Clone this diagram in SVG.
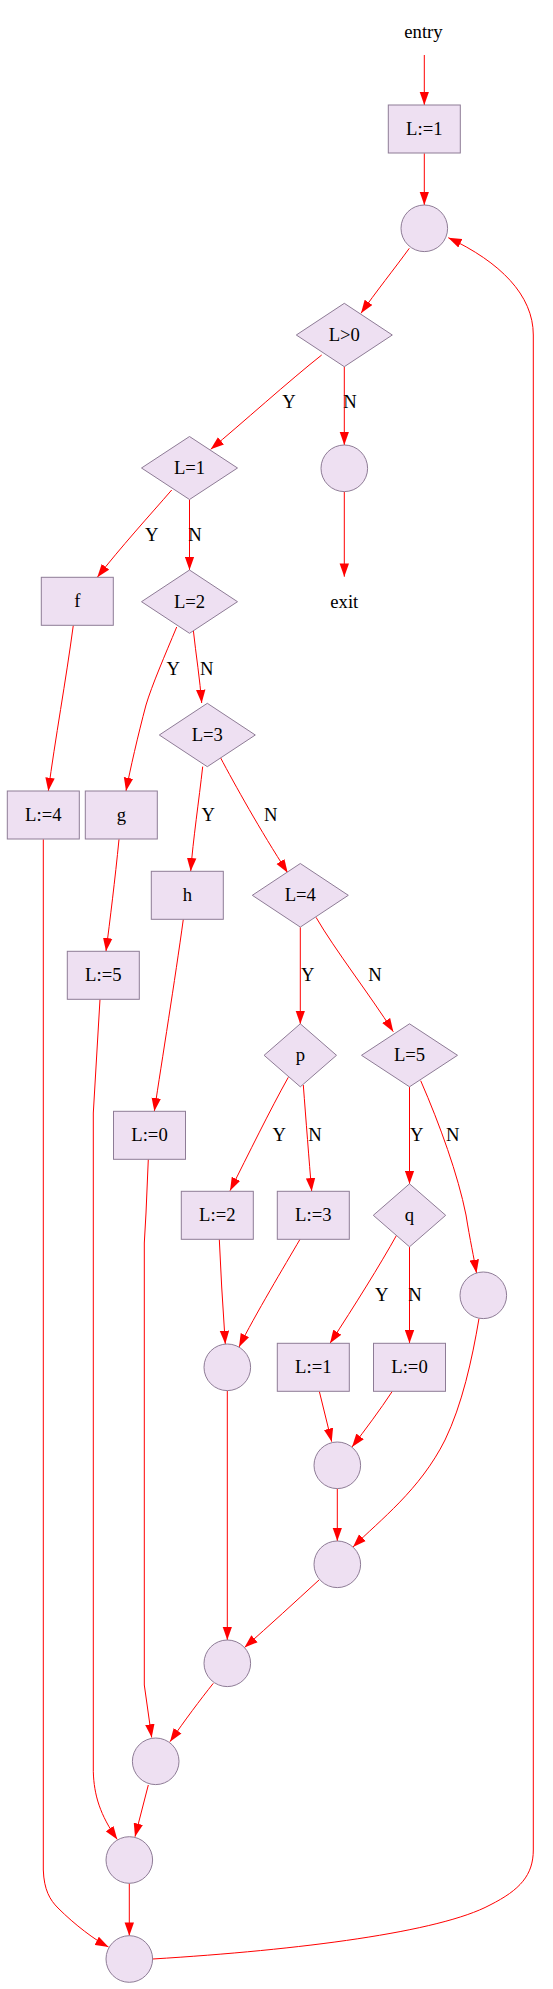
<svg xmlns="http://www.w3.org/2000/svg" width="553" height="1989" viewBox="0 0 553 1989">
<style>
.n{fill:#eee0f2;stroke:#8e7c96;stroke-width:1}
.t{font-family:"Liberation Serif","Times New Roman",serif;font-size:18.67px;text-anchor:middle;fill:#000}
.e{fill:none;stroke:#ff0000;stroke-width:1;marker-end:url(#a)}
</style>
<defs>
<marker id="a" markerUnits="userSpaceOnUse" markerWidth="14" markerHeight="10" viewBox="0 0 14 10" refX="13.3" refY="5" orient="auto">
<path d="M0,0.3 L13.3,5 L0,9.7 z" fill="#ff0000"/>
</marker>
</defs>
<rect width="553" height="1989" fill="#ffffff"/>
<g id="edges">
<path class="e" d="M424.3,55 L424.3,105"/>
<path class="e" d="M424.3,153.3 L424.3,205"/>
<path class="e" d="M409.3,248.3 C395,268 375,293 361,313.3"/>
<path class="e" d="M321.7,355 C290,380 240,425 210.7,449.3"/>
<text class="t" x="289" y="408">Y</text>
<path class="e" d="M344.3,366.7 L344.3,445"/>
<text class="t" x="350" y="408">N</text>
<path class="e" d="M344.3,491.7 L344.3,576.7"/>
<path class="e" d="M171.7,490 C150,515 120,548 97.3,577.3"/>
<text class="t" x="151.7" y="541">Y</text>
<path class="e" d="M189.5,499.5 L189.5,570"/>
<text class="t" x="195" y="541">N</text>
<path class="e" d="M73.3,625.3 C66,680 55,740 48.3,791"/>
<path class="e" d="M176.7,627 C165,655 152,685 146,705 C138,735 130,770 126,791"/>
<text class="t" x="173.3" y="675">Y</text>
<path class="e" d="M193.3,630 C196,655 200,680 201.7,703"/>
<text class="t" x="206.7" y="675">N</text>
<path class="e" d="M202.7,766.6 C199,800 193,840 190.7,871.3"/>
<text class="t" x="208.3" y="821">Y</text>
<path class="e" d="M220.3,757.3 C235,785 260,830 287.7,872.7"/>
<text class="t" x="270.7" y="821">N</text>
<path class="e" d="M119,839.3 C115,880 110,920 106,951.3"/>
<path class="e" d="M183.3,919.3 C175,980 162,1060 154.3,1111.3"/>
<path class="e" d="M300.3,927.3 L300.3,1024"/>
<text class="t" x="307.7" y="981">Y</text>
<path class="e" d="M316,917.3 C335,950 370,995 393.3,1031.7"/>
<text class="t" x="375" y="981">N</text>
<path class="e" d="M43.3,839.3 L43.3,1870 C44,1890 50,1900 58,1908 C75,1925 95,1940 108.5,1947"/>
<path class="e" d="M100,999.3 L93.3,1113 L93.3,1771.7 C94,1795 100,1815 117.3,1839.5"/>
<path class="e" d="M148.3,1159.3 L146,1213 L144.3,1243 L144.3,1685 L151.7,1737.5"/>
<path class="e" d="M288.3,1077.3 C270,1110 248,1155 230,1190.7"/>
<text class="t" x="279.3" y="1141">Y</text>
<path class="e" d="M303.3,1085 C306,1120 309,1160 311.7,1191.3"/>
<text class="t" x="315" y="1141">N</text>
<path class="e" d="M409.5,1086.7 L409.5,1184"/>
<text class="t" x="416.7" y="1141">Y</text>
<path class="e" d="M420.7,1080.7 C440,1125 458,1175 466,1215 C470,1240 474,1258 476.5,1273"/>
<text class="t" x="452.7" y="1141">N</text>
<path class="e" d="M219.3,1239.3 L221.7,1287 L225.3,1344"/>
<path class="e" d="M300,1239.3 C285,1265 255,1315 239,1347"/>
<path class="e" d="M396.7,1235 C380,1265 355,1305 330,1343.3"/>
<text class="t" x="381.7" y="1301">Y</text>
<path class="e" d="M409.5,1246.8 L409.5,1343.3"/>
<text class="t" x="415" y="1301">N</text>
<path class="e" d="M319.3,1391.3 L331.7,1441.7"/>
<path class="e" d="M392.3,1391.3 C380,1410 365,1430 352,1447"/>
<path class="e" d="M337.3,1488.6 L337.3,1541"/>
<path class="e" d="M479,1318.5 C472,1360 462,1405 445,1440 C420,1490 380,1520 353,1547"/>
<path class="e" d="M227.3,1390.6 L227.3,1640"/>
<path class="e" d="M319,1580 C295,1602 270,1625 244.5,1647.5"/>
<path class="e" d="M213.3,1683.3 C200,1700 185,1720 170,1741.7"/>
<path class="e" d="M148.3,1785 L135,1836.7"/>
<path class="e" d="M129.3,1883.3 L129.3,1935.7"/>
<path class="e" d="M152.6,1959 C300,1950 440,1932 490,1905 C520,1890 533.3,1875 533.3,1850 L533.3,335 C533.3,295 500,262 448.3,237.7"/>
</g>
<g id="entry"><text class="t" x="423.5" y="37.7">entry</text></g>
<g id="n_L1"><rect class="n" x="388.3" y="105" width="72" height="48"/><text class="t" x="424.3" y="135">L:=1</text></g>
<g id="c0"><circle class="n" cx="424.3" cy="228.3" r="23.3"/></g>
<g id="d_Lgt0"><polygon class="n" points="344.3,303.3 392.3,335 344.3,366.7 296.3,335"/><text class="t" x="344.3" y="341">L&gt;0</text></g>
<g id="d_L1"><polygon class="n" points="189.5,436.5 237.5,468 189.5,499.5 141.5,468"/><text class="t" x="189.5" y="474">L=1</text></g>
<g id="c1"><circle class="n" cx="344.3" cy="468.3" r="23.3"/></g>
<g id="exit"><text class="t" x="344.3" y="607.7">exit</text></g>
<g id="n_f"><rect class="n" x="41.3" y="577.3" width="72" height="48"/><text class="t" x="77.3" y="607.3">f</text></g>
<g id="d_L2"><polygon class="n" points="189.5,570 237.5,601.7 189.5,633.3 141.5,601.7"/><text class="t" x="189.5" y="607.7">L=2</text></g>
<g id="d_L3"><polygon class="n" points="207.3,703.3 255.3,735 207.3,766.7 159.3,735"/><text class="t" x="207.3" y="741">L=3</text></g>
<g id="n_L4"><rect class="n" x="7.3" y="791" width="72" height="48"/><text class="t" x="43.3" y="821">L:=4</text></g>
<g id="n_g"><rect class="n" x="85.3" y="791" width="72" height="48"/><text class="t" x="121.3" y="821">g</text></g>
<g id="n_h"><rect class="n" x="151.3" y="871.3" width="72" height="48"/><text class="t" x="187.3" y="901.3">h</text></g>
<g id="d_L4"><polygon class="n" points="300.3,863.5 348.3,895.3 300.3,927.1 252.3,895.3"/><text class="t" x="300.3" y="901.3">L=4</text></g>
<g id="n_L5"><rect class="n" x="67.3" y="951.3" width="72" height="48"/><text class="t" x="103.3" y="981.3">L:=5</text></g>
<g id="d_p"><polygon class="n" points="300.3,1023.8 336.5,1055.3 300.3,1086.8 264.1,1055.3"/><text class="t" x="300.3" y="1061.3">p</text></g>
<g id="d_L5"><polygon class="n" points="409.5,1023.8 457.5,1055.3 409.5,1086.8 361.5,1055.3"/><text class="t" x="409.5" y="1061.3">L=5</text></g>
<g id="n_L0"><rect class="n" x="113.5" y="1111.3" width="72" height="48"/><text class="t" x="149.5" y="1141.3">L:=0</text></g>
<g id="n_L2"><rect class="n" x="181.3" y="1191.3" width="72" height="48"/><text class="t" x="217.3" y="1221.3">L:=2</text></g>
<g id="n_L3"><rect class="n" x="277.3" y="1191.3" width="72" height="48"/><text class="t" x="313.3" y="1221.3">L:=3</text></g>
<g id="d_q"><polygon class="n" points="409.5,1183.8 445.7,1215.3 409.5,1246.8 373.3,1215.3"/><text class="t" x="409.5" y="1221.3">q</text></g>
<g id="c2"><circle class="n" cx="483.3" cy="1295.3" r="23.3"/></g>
<g id="c3"><circle class="n" cx="227.3" cy="1367.3" r="23.3"/></g>
<g id="n_L1b"><rect class="n" x="277.3" y="1343.3" width="72" height="48"/><text class="t" x="313.3" y="1373.3">L:=1</text></g>
<g id="n_L0b"><rect class="n" x="373.5" y="1343.3" width="72" height="48"/><text class="t" x="409.5" y="1373.3">L:=0</text></g>
<g id="c4"><circle class="n" cx="337.3" cy="1465.3" r="23.3"/></g>
<g id="c5"><circle class="n" cx="337.3" cy="1564.3" r="23.3"/></g>
<g id="c6"><circle class="n" cx="227.3" cy="1663.3" r="23.3"/></g>
<g id="c7"><circle class="n" cx="155.7" cy="1761.3" r="23.3"/></g>
<g id="c8"><circle class="n" cx="129.3" cy="1860" r="23.3"/></g>
<g id="c9"><circle class="n" cx="129.3" cy="1959" r="23.3"/></g>
</svg>
